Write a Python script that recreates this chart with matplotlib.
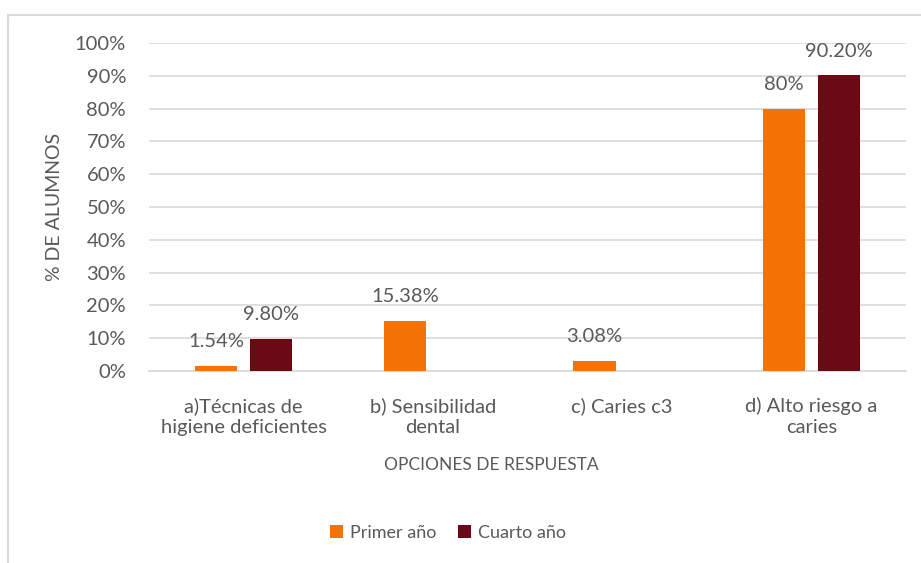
import matplotlib
matplotlib.use("Agg")
import matplotlib.pyplot as plt
from matplotlib.patches import Rectangle
from matplotlib.transforms import offset_copy
import numpy as np

categories = ["a)Técnicas de\nhigiene deficientes", "b) Sensibilidad\ndental", "c) Caries c3", "d) Alto riesgo a\ncaries"]
primer = [1.54, 15.38, 3.08, 80.0]
cuarto = [9.80, 0.0, 0.0, 90.20]
primer_labels = ["1.54%", "15.38%", "3.08%", "80%"]
cuarto_labels = ["9.80%", "", "", "90.20%"]
series_names = ["Primer año", "Cuarto año"]
yticks = [0, 10, 20, 30, 40, 50, 60, 70, 80, 90, 100]

plt.rcParams['font.family'] = ['Lato', 'DejaVu Sans']
W, H = 921, 563
fig = plt.figure(figsize=(W/100, H/100), dpi=100)
fig.patch.set_facecolor('white')

left, right, top, bottom = 149, 906, 43, 371
ax = fig.add_axes([left/W, 1-bottom/H, (right-left)/W, (bottom-top)/H])

txt = '#595959'
orange = '#F57306'
dark = '#6B0A14'
fs = 14.5
x = np.arange(len(categories))
bw = 0.224
off = 0.146
b1 = ax.bar(x - off, primer, bw, color=orange, label=series_names[0], zorder=3)
b2 = ax.bar(x + off, cuarto, bw, color=dark, label=series_names[1], zorder=3)

lab_tr = offset_copy(ax.transData, fig=fig, x=0, y=24, units='dots')
for xi, v, lab in zip(x - off, primer, primer_labels):
    if lab:
        ax.text(xi, v, lab, ha='center', va='center', fontsize=fs, color=txt, transform=lab_tr)
for xi, v, lab in zip(x + off, cuarto, cuarto_labels):
    if lab:
        ax.text(xi, v, lab, ha='center', va='center', fontsize=fs, color=txt, transform=lab_tr)

ax.set_xlim(-0.5, len(categories) - 0.5)
ax.set_ylim(0, 100)
ax.set_yticks(yticks)
ax.set_yticklabels([f"{t}%" for t in yticks], fontsize=fs, color=txt)
ax.set_xticks(x)
ax.set_xticklabels(categories, fontsize=fs, color=txt, linespacing=1.25)
ax.tick_params(axis='both', length=0)
ax.tick_params(axis='y', pad=16.5)
ax.tick_params(axis='x', pad=19)
ax.grid(axis='y', color='#D9D9D9', linewidth=1.2, zorder=0)
for s in ['top', 'right', 'left']:
    ax.spines[s].set_visible(False)
ax.spines['bottom'].set_color('#D9D9D9')
ax.spines['bottom'].set_linewidth(1.2)

ax.set_ylabel("% DE ALUMNOS", fontsize=14, color=txt)
ax.yaxis.set_label_coords((55 - left) / (right - left), 0.5)
ax.yaxis.label.set_verticalalignment('center')
ax.set_xlabel("OPCIONES DE RESPUESTA", fontsize=12.5, color=txt)
ax.xaxis.set_label_coords((491 - left) / (right - left), (bottom - 465) / (bottom - top))
ax.xaxis.label.set_verticalalignment('center')

fig.legend(handles=[b1, b2], labels=series_names, loc='center', bbox_to_anchor=(448/W, 1-533/H),
           ncol=2, frameon=False, fontsize=13, labelcolor=txt, handlelength=0.7,
           handleheight=0.7, handletextpad=0.4, columnspacing=1.2)

fig.add_artist(Rectangle((7.5/W, -0.1), 1.2, 1 - 14.5/H + 0.1, transform=fig.transFigure,
                         fill=False, edgecolor='#D9D9D9', linewidth=1.5))

fig.savefig("out.png", dpi=100)
